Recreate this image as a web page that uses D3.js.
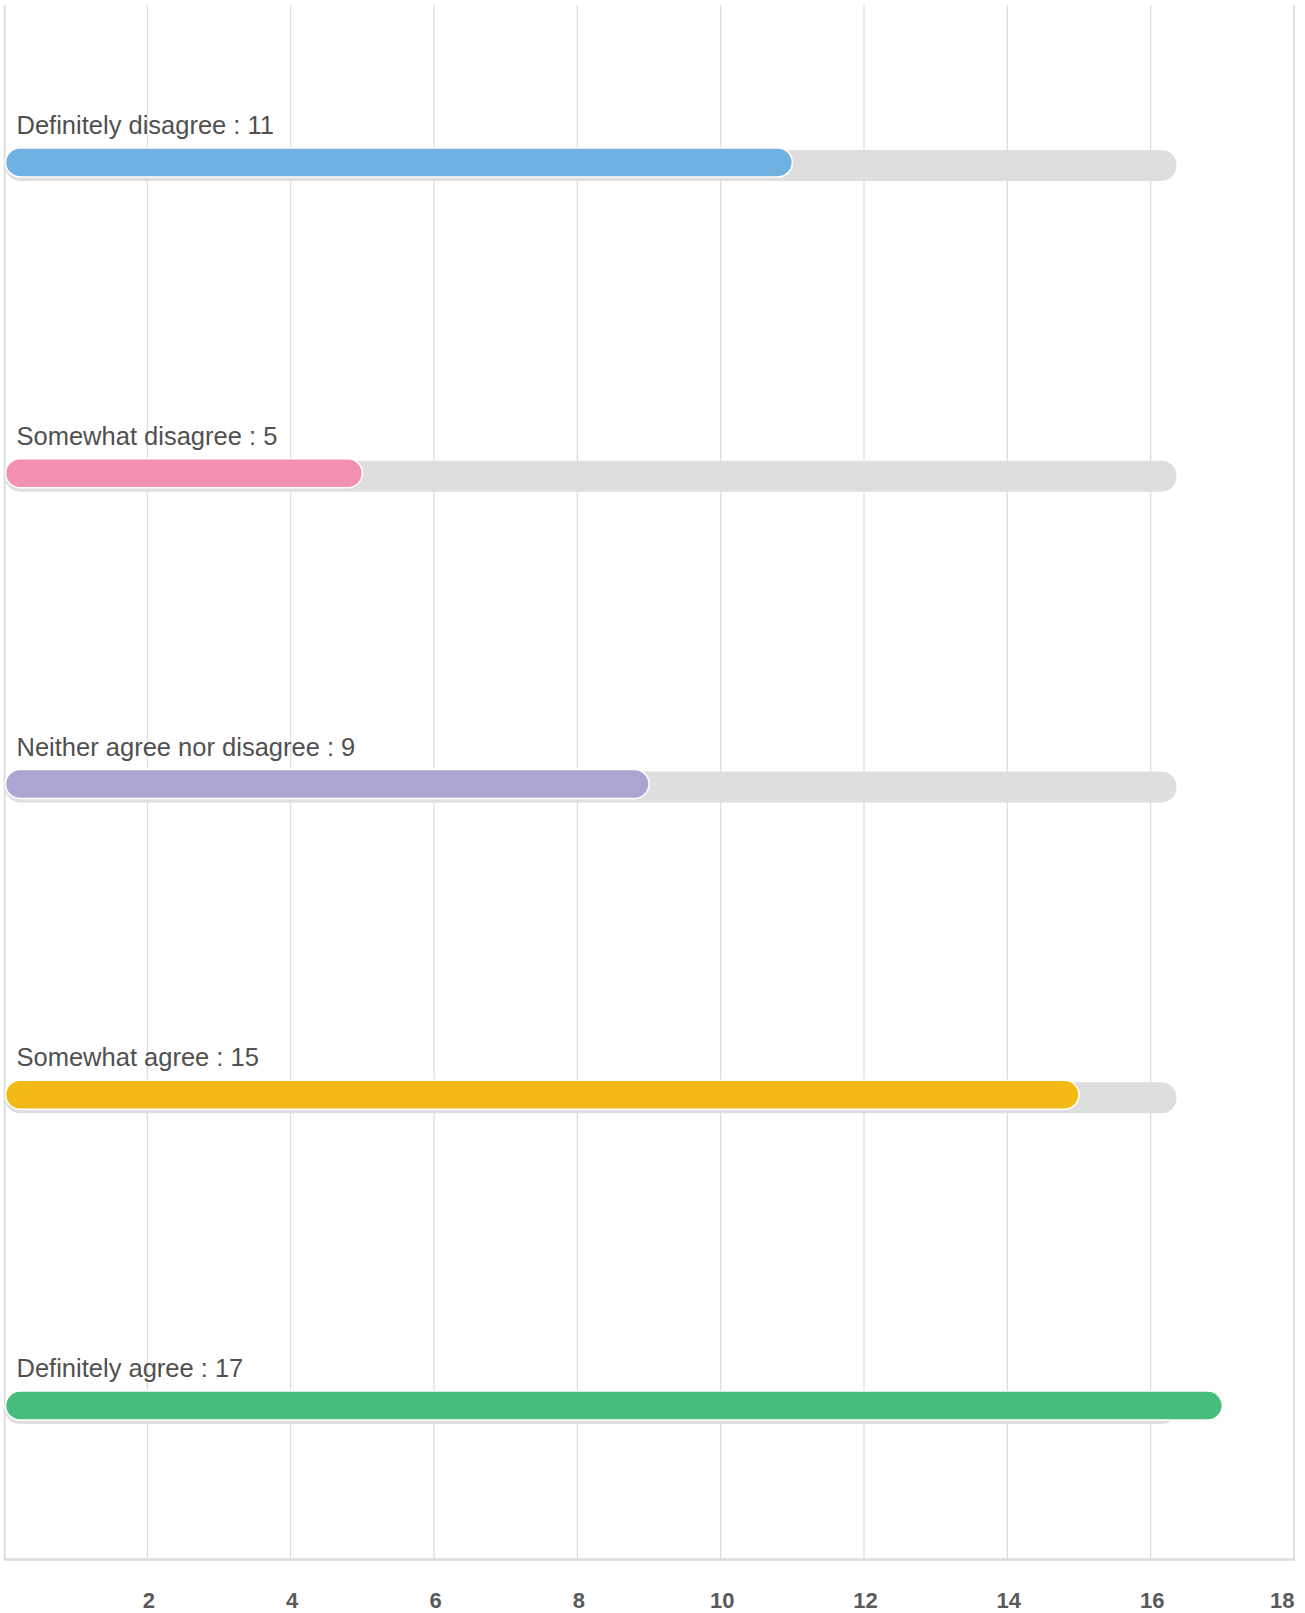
<!DOCTYPE html>
<html>
<head>
<meta charset="utf-8">
<script src="https://cdn.jsdelivr.net/npm/d3@7"></script>
<style>
  html, body { margin: 0; padding: 0; background: #fff; }
  svg { display: block; }
</style>
</head>
<body>
<svg id="chart" width="1305" height="1613"></svg>
<script>
const categories = ["Definitely disagree", "Somewhat disagree", "Neither agree nor disagree", "Somewhat agree", "Definitely agree"];
const values = [11, 5, 9, 15, 17];
const colors = ["#6fb1e0", "#f28fb2", "#ada4d2", "#f2b918", "#46bd7d"];
const tickValues = [2, 4, 6, 8, 10, 12, 14, 16, 18];
const trackMax = 16.36;
const domainMax = 18;

(function () {
const svg = d3.select("#chart");
const pLeft = 4, pRight = 1294, pTop = 5, pBottom = 1559;

const x = d3.scaleLinear().domain([0, domainMax]).range([pLeft, pRight]);
const y = d3.scaleBand().domain(categories).range([pTop, pBottom]).padding(0);

// gridlines
svg.append("g").selectAll("line").data(tickValues.filter(t => t < domainMax)).join("line")
  .attr("x1", d => x(d)).attr("x2", d => x(d))
  .attr("y1", pTop).attr("y2", pBottom)
  .attr("stroke", "#dcdcdc").attr("stroke-width", 1.2);

// right border line
svg.append("line").attr("x1", x(domainMax)).attr("x2", x(domainMax))
  .attr("y1", pTop).attr("y2", pBottom + 1)
  .attr("stroke", "#dedede").attr("stroke-width", 2);
// left axis line
svg.append("line").attr("x1", x(0) + 0.7).attr("x2", x(0) + 0.7)
  .attr("y1", pTop).attr("y2", pBottom + 1)
  .attr("stroke", "#dedede").attr("stroke-width", 2);
// bottom axis line
svg.append("line").attr("x1", x(0)).attr("x2", x(domainMax) + 1)
  .attr("y1", pBottom + 0.5).attr("y2", pBottom + 0.5)
  .attr("stroke", "#dcdcdc").attr("stroke-width", 2.5);

// axis tick labels
const axis = d3.axisBottom(x).tickValues(tickValues).tickSize(0).tickPadding(0);
const ag = svg.append("g").attr("transform", `translate(0,${pBottom})`).call(axis);
ag.select(".domain").remove();
ag.selectAll("text")
  .attr("y", 48.5).attr("dy", null)
  .style("font-family", "'Liberation Sans', Arial, Helvetica, sans-serif")
  .style("font-size", "22px")
  .style("font-weight", "bold")
  .attr("fill", "#5a5a5a")
  .attr("text-anchor", d => d === domainMax ? "end" : "middle")
  .attr("dx", d => d === domainMax ? 0 : 1);

const rows = categories.map((c, i) => ({ cat: c, value: values[i], color: colors[i] }));
const barH = 29, trackH = 31;

const row = svg.append("g").selectAll("g.row").data(rows).join("g").attr("class", "row");

const cy = d => y(d.cat) + y.bandwidth() / 2 + 2;

// track
row.append("rect")
  .attr("x", x(0) + 1)
  .attr("y", d => cy(d) - trackH / 2 + 3)
  .attr("width", x(trackMax) - x(0) - 1)
  .attr("height", trackH)
  .attr("rx", 15).attr("ry", 15)
  .attr("fill", "#dedede");

// value bar
row.append("rect")
  .attr("x", x(0) + 1.5)
  .attr("y", d => cy(d) - barH / 2)
  .attr("width", d => x(d.value) - x(0) - 1.5)
  .attr("height", barH)
  .attr("rx", 14.5).attr("ry", 14.5)
  .attr("fill", d => d.color)
  .attr("stroke", "#ffffff")
  .attr("stroke-width", 1.5);

// labels
row.append("text")
  .attr("x", 16.5)
  .attr("y", d => cy(d) - barH / 2 - 14)
  .style("font-family", "'Liberation Sans', Arial, Helvetica, sans-serif")
  .style("font-size", "25.5px")
  .attr("fill", "#505050")
  .text(d => `${d.cat} : ${d.value}`);
})();
</script>
</body>
</html>
